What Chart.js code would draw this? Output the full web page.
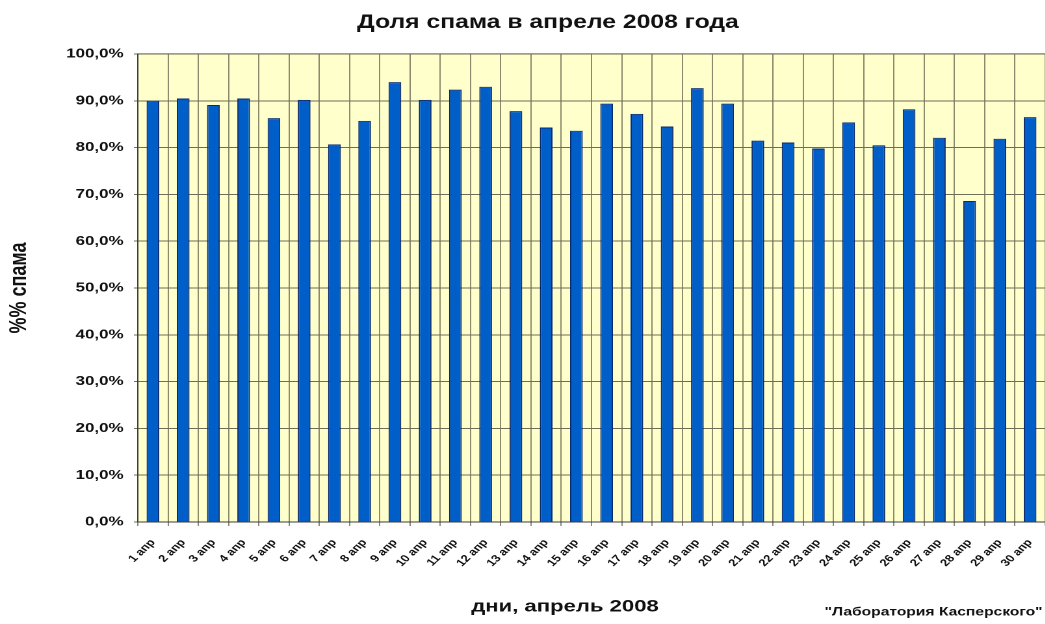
<!DOCTYPE html>
<html>
<head>
<meta charset="utf-8">
<script src="https://cdn.jsdelivr.net/npm/chart.js@4"></script>
<style>
  html, body { margin: 0; padding: 0; background: #fff; overflow: hidden; }
  /* the source picture is a horizontally stretched Excel chart */
  #wrap { width: 804px; height: 624px; transform: scaleX(1.3); transform-origin: 0 0; }
</style>
</head>
<body>
<div id="wrap"><canvas id="spamChart"></canvas></div>
<script>
const days = ['1 апр', '2 апр', '3 апр', '4 апр', '5 апр', '6 апр', '7 апр', '8 апр', '9 апр', '10 апр',
  '11 апр', '12 апр', '13 апр', '14 апр', '15 апр', '16 апр', '17 апр', '18 апр', '19 апр', '20 апр',
  '21 апр', '22 апр', '23 апр', '24 апр', '25 апр', '26 апр', '27 апр', '28 апр', '29 апр', '30 апр'];
const spamShare = [90.0, 90.5, 89.1, 90.5, 86.3, 90.2, 80.7, 85.7, 94.0, 90.2,
  92.4, 93.0, 87.8, 84.3, 83.6, 89.4, 87.2, 84.5, 92.7, 89.4,
  81.5, 81.1, 79.8, 85.4, 80.5, 88.2, 82.1, 68.6, 81.9, 86.5];
const yMin = 0;
const yMax = 100;
const yStep = 10;

const chartTitle = 'Доля спама в апреле 2008 года';
const yTitle = '%% спама';
const xTitle = 'дни, апрель 2008';
const credit = '"Лаборатория Касперского"';

const FONT = '"Liberation Sans", Arial, sans-serif';

const plotBackground = {
    id: 'plotBackground',
    beforeDraw(chart) {
        const { ctx, chartArea: a } = chart;
        ctx.save();
        ctx.fillStyle = '#ffffcc';
        ctx.fillRect(a.left, a.top, a.right - a.left, a.bottom - a.top);
        ctx.strokeStyle = '#c8ccd8';
        ctx.lineWidth = 1;
        ctx.beginPath();
        ctx.moveTo(a.left, a.top - 0.5);
        ctx.lineTo(a.right, a.top - 0.5);
        ctx.stroke();
        ctx.restore();
    }
};

// title, x title and the credit line are drawn by hand (not centred on the canvas in the source)
const freeTexts = {
    id: 'freeTexts',
    afterDraw(chart) {
        const ctx = chart.ctx;
        ctx.save();
        ctx.fillStyle = '#111';
        ctx.textBaseline = 'middle';
        ctx.textAlign = 'center';
        ctx.font = 'bold 19px ' + FONT;
        ctx.fillText(chartTitle, 421.5, 23);
        ctx.font = 'bold 17px ' + FONT;
        ctx.fillText(xTitle, 434.6, 607);
        ctx.font = 'bold 12px ' + FONT;
        ctx.textAlign = 'right';
        ctx.fillText(credit, 802, 612);
        ctx.restore();
    }
};

const ctx = document.getElementById('spamChart');

new Chart(ctx, {
    type: 'bar',
    data: {
        labels: days,
        datasets: [{
            label: 'Доля спама',
            data: spamShare,
            backgroundColor: '#005ec8',
            borderColor: '#0a2a70',
            borderWidth: 1,
            barPercentage: 0.42,
            categoryPercentage: 1
        }]
    },
    options: {
        responsive: true,
        maintainAspectRatio: false,
        animation: false,
        devicePixelRatio: 2,
        layout: { padding: { top: 54 } },
        plugins: {
            legend: { display: false },
            tooltip: { enabled: false }
        },
        scales: {
            x: {
                grid: { color: '#6f6d55', lineWidth: 0.8, tickLength: 4, offset: true },
                border: { color: '#3c3c3c' },
                ticks: {
                    autoSkip: false,
                    maxRotation: 50,
                    minRotation: 50,
                    padding: 11,
                    color: '#111',
                    font: { family: FONT, size: 10, weight: 'bold' }
                },
                afterFit(scale) {
                    scale.height = 102;
                    // plot runs right up to the edge of the picture
                    scale.paddingLeft = 0;
                    scale.paddingRight = 0;
                }
            },
            y: {
                min: yMin,
                max: yMax,
                grid: { color: '#6f6d55', lineWidth: 1, tickLength: 3 },
                border: { color: '#3c3c3c' },
                ticks: {
                    stepSize: yStep,
                    padding: 8,
                    color: '#111',
                    font: { family: FONT, size: 13, weight: 'bold' },
                    callback: v => v.toFixed(1).replace('.', ',') + '%'
                },
                title: {
                    display: true,
                    text: yTitle,
                    color: '#111',
                    font: { family: FONT, size: 18, weight: 'bold' },
                    padding: { top: 4, bottom: 0 }
                },
                afterFit(scale) { scale.width = 106; }
            }
        }
    },
    plugins: [plotBackground, freeTexts]
});
</script>
</body>
</html>
